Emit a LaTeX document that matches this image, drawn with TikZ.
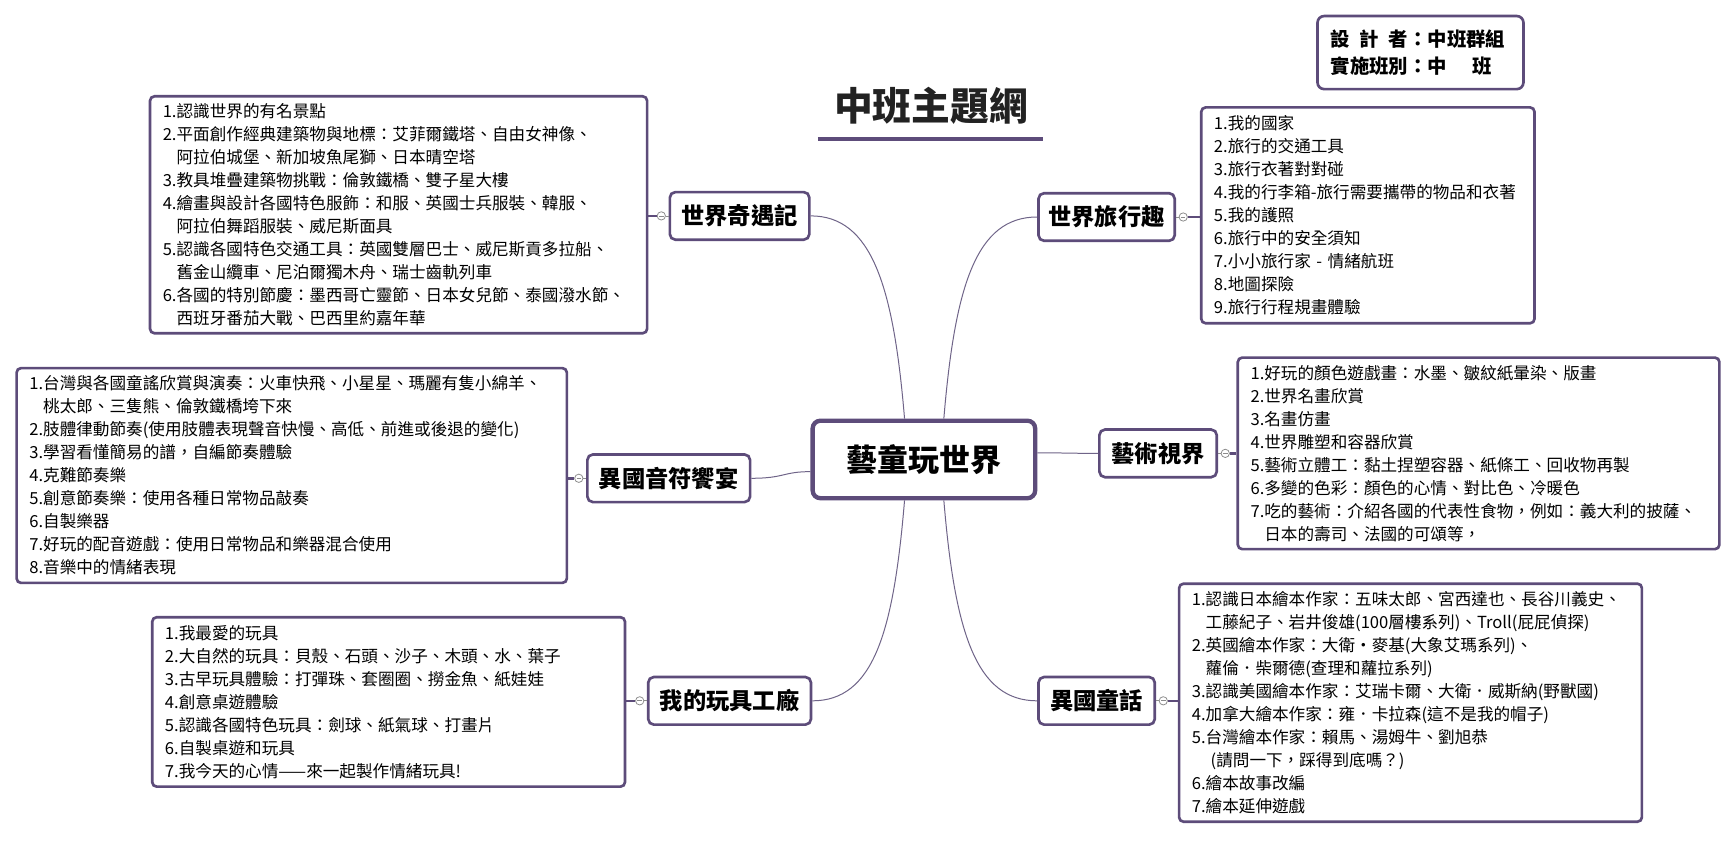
\documentclass[tikz,border=0pt]{standalone}
\usepackage{fontspec}
\setmainfont{Noto Sans CJK TC}
\definecolor{purp}{HTML}{5D4C7A}
\definecolor{conn}{HTML}{6F6488}
\definecolor{circgray}{HTML}{8C8C8C}
\definecolor{titlecol}{HTML}{222222}
\begin{document}
\begin{tikzpicture}[x=1pt,y=-1pt,
  listbox/.style={draw=purp, line width=2.4pt, rounded corners=4pt, fill=white, align=left,
    inner xsep=11.5pt, inner ysep=0pt, font=\fontsize{15}{20.8}\selectfont, anchor=center},
  branch/.style={draw=purp, line width=2.4pt, rounded corners=5pt, fill=white,
    font=\fontsize{21}{24}\selectfont\bfseries, minimum height=43pt, inner xsep=0pt, anchor=center},
  hub/.style={draw=purp, line width=3.9pt, rounded corners=7pt, fill=white,
    font=\fontsize{28}{32}\selectfont\bfseries, minimum width=201pt, minimum height=70pt, anchor=center},
  toggle/.style={circle, draw=circgray, line width=0.7pt, fill=white, minimum size=7.5pt, inner sep=0pt,
    path picture={\draw[circgray, line width=0.7pt] ([xshift=1.7pt]path picture bounding box.west) -- ([xshift=-1.7pt]path picture bounding box.east);}},
  link/.style={draw=conn, line width=0.9pt},
  stub/.style={draw=purp, line width=2.2pt},
  tiny/.style={draw=circgray, line width=0.7pt},
]
\fill[white] (0,0) rectangle (1568,759);
\useasboundingbox (0,0) rectangle (1568,759);

% title
\node[font=\fontsize{35}{40}\selectfont\bfseries, text=titlecol] (title) at (840.8,96) {中班主題網};
\draw[purp, line width=3pt] (738.7,125.5) -- (942,125.5);

% designer box
\node[draw=purp, line width=2.4pt, rounded corners=6pt, fill=white, align=left,
  font=\fontsize{17.5}{25}\selectfont\bfseries, minimum width=186pt, minimum height=66pt,
  inner xsep=12pt, text width=162pt] (designer) at (1283,47.5)
  {設\hspace{0.5em}計\hspace{0.5em}者：中班群組\\實施班別：中\hspace{1.3em}班};

% hub
\node[hub] (hub) at (834.5,415) {藝童玩世界};

% branches
\node[branch, minimum width=126pt] (n1) at (668,195) {世界奇遇記};
\node[branch, minimum width=123pt] (n2) at (999.5,196) {世界旅行趣};
\node[branch, minimum width=147pt] (n3) at (604,432) {異國音符饗宴};
\node[branch, minimum width=106pt] (n4) at (1046,409.5) {藝術視界};
\node[branch, minimum width=147pt] (n5) at (659,633) {我的玩具工廠};
\node[branch, minimum width=105pt] (n6) at (990.5,633) {異國童話};

% list boxes
\node[listbox, text width=426pt, minimum height=214pt] (bA) at (360,194) {%
1.認識世界的有名景點\\
2.平面創作經典建築物與地標：艾菲爾鐵塔、自由女神像、\\
\phantom{2.}阿拉伯城堡、新加坡魚尾獅、日本晴空塔\\
3.教具堆疊建築物挑戰：倫敦鐵橋、雙子星大樓\\
4.繪畫與設計各國特色服飾：和服、英國士兵服裝、韓服、\\
\phantom{4.}阿拉伯舞蹈服裝、威尼斯面具\\
5.認識各國特色交通工具：英國雙層巴士、威尼斯貢多拉船、\\
\phantom{5.}舊金山纜車、尼泊爾獨木舟、瑞士齒軌列車\\
6.各國的特別節慶：墨西哥亡靈節、日本女兒節、泰國潑水節、\\
\phantom{6.}西班牙番茄大戰、巴西里約嘉年華};

\node[listbox, text width=278pt, minimum height=195pt] (bB) at (1235.5,194.5) {%
1.我的國家\\
2.旅行的交通工具\\
3.旅行衣著對對碰\\
4.我的行李箱-旅行需要攜帶的物品和衣著\\
5.我的護照\\
6.旅行中的安全須知\\
7.小小旅行家 - 情緒航班\\
8.地圖探險\\
9.旅行行程規畫體驗};

\node[listbox, text width=474pt, minimum height=194pt] (bC) at (263.5,429.5) {%
1.台灣與各國童謠欣賞與演奏：火車快飛、小星星、瑪麗有隻小綿羊、\\
\phantom{1.}桃太郎、三隻熊、倫敦鐵橋垮下來\\
2.肢體律動節奏(使用肢體表現聲音快慢、高低、前進或後退的變化)\\
3.學習看懂簡易的譜，自編節奏體驗\\
4.克難節奏樂\\
5.創意節奏樂：使用各種日常物品敲奏\\
6.自製樂器\\
7.好玩的配音遊戲：使用日常物品和樂器混合使用\\
8.音樂中的情緒表現};

\node[listbox, text width=412pt, minimum height=173pt] (bD) at (1335.5,409.5) {%
1.好玩的顏色遊戲畫：水墨、皺紋紙暈染、版畫\\
2.世界名畫欣賞\\
3.名畫仿畫\\
4.世界雕塑和容器欣賞\\
5.藝術立體工：黏土捏塑容器、紙條工、回收物再製\\
6.多變的色彩：顏色的心情、對比色、冷暖色\\
7.吃的藝術：介紹各國的代表性食物，例如：義大利的披薩、\\
\phantom{7.}日本的壽司、法國的可頌等，};

\node[listbox, text width=404pt, minimum height=153pt] (bE) at (351,634) {%
1.我最愛的玩具\\
2.大自然的玩具：貝殼、石頭、沙子、木頭、水、葉子\\
3.古早玩具體驗：打彈珠、套圈圈、撈金魚、紙娃娃\\
4.創意桌遊體驗\\
5.認識各國特色玩具：劍球、紙氣球、打畫片\\
6.自製桌遊和玩具\\
7.我今天的心情——來一起製作情緒玩具!};

\node[listbox, text width=395pt, minimum height=215pt] (bF) at (1274,634.7) {%
1.認識日本繪本作家：五味太郎、宮西達也、長谷川義史、\\
\phantom{1.}工藤紀子、岩井俊雄(100層樓系列)、Troll(屁屁偵探)\\
2.英國繪本作家：大衛·麥基(大象艾瑪系列)、\\
\phantom{2.}蘿倫．柴爾德(查理和蘿拉系列)\\
3.認識美國繪本作家：艾瑞卡爾、大衛．威斯納(野獸國)\\
4.加拿大繪本作家：雍．卡拉森(這不是我的帽子)\\
5.台灣繪本作家：賴馬、湯姆牛、劉旭恭\\
\phantom{5.}\hspace{0.3em}(請問一下，踩得到底嗎？)\\
6.繪本故事改編\\
7.繪本延伸遊戲};

% toggles
\node[toggle] (t1) at ([xshift=-6.5pt]n1.west) {};
\node[toggle] (t2) at ([xshift=6.5pt]n2.east) {};
\node[toggle] (t3) at ([xshift=-6.5pt]n3.west) {};
\node[toggle] (t4) at ([xshift=6.5pt]n4.east) {};
\node[toggle] (t5) at ([xshift=-6.5pt]n5.west) {};
\node[toggle] (t6) at ([xshift=6.5pt]n6.east) {};

\draw[stub] (t1.west) -- (t1.west -| bA.east);
\draw[stub] (t2.east) -- (t2.east -| bB.west);
\draw[stub] (t3.west) -- (t3.west -| bC.east);
\draw[stub] (t4.east) -- (t4.east -| bD.west);
\draw[stub] (t5.west) -- (t5.west -| bE.east);
\draw[stub] (t6.east) -- (t6.east -| bF.west);
\draw[tiny] (t1.east) -- (n1.west);
\draw[tiny] (t2.west) -- (n2.east);
\draw[tiny] (t3.east) -- (n3.west);
\draw[tiny] (t4.west) -- (n4.east);
\draw[tiny] (t5.east) -- (n5.west);
\draw[tiny] (t6.west) -- (n6.east);

% connectors from hub
\draw[link] ([xshift=-17.5pt]hub.north) .. controls +(-10,-120) and +(55,0) .. (n1.east);
\draw[link] ([xshift=18pt]hub.north) .. controls +(10,-120) and +(-55,0) .. (n2.west);
\draw[link] ([yshift=-11pt]hub.west) .. controls +(-25,0) and +(30,0) .. (n3.east);
\draw[link] ([yshift=6pt]hub.east) .. controls +(25,0) and +(-25,0) .. (n4.west);
\draw[link] ([xshift=-17.5pt]hub.south) .. controls +(-10,120) and +(55,0) .. (n5.east);
\draw[link] ([xshift=18pt]hub.south) .. controls +(10,120) and +(-55,0) .. (n6.west);
\end{tikzpicture}
\end{document}
